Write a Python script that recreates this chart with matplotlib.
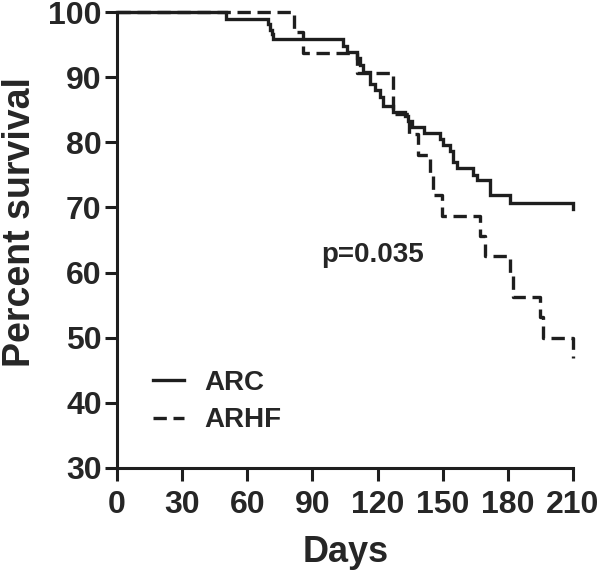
import matplotlib
matplotlib.use("Agg")
import matplotlib.pyplot as plt

plt.rcParams['font.family'] = ['Liberation Sans', 'DejaVu Sans']
plt.rcParams['font.weight'] = 'bold'

# Kaplan-Meier steps (day of drop, survival after drop)
arc_days = [0, 50.2, 69.7, 70.5, 71.3, 72.0, 104.2, 105.8, 110.4, 112.0, 113.4,
            116.5, 118.8, 121.0, 122.5, 127.3, 132.7, 134.2, 135.7, 141.5, 148.8,
            150.3, 153.4, 154.9, 156.5, 164.1, 165.7, 171.8, 181.0, 210]
arc_surv = [100, 98.9, 98.1, 97.3, 96.6, 95.8, 94.8, 93.8, 92.9, 91.9, 90.8,
            89.0, 88.0, 87.0, 85.5, 84.6, 84.0, 83.3, 82.4, 81.4, 80.5,
            79.6, 78.6, 77.0, 76.0, 75.0, 74.2, 71.9, 70.7, 69.8]

arhf_days = [0, 81.5, 85.7, 110.4, 127.3, 134.3, 138.8, 144.2, 145.7, 149.7,
             167.2, 169.3, 181.2, 182.5, 194.8, 196.4, 210]
arhf_surv = [100, 96.9, 93.75, 90.6, 84.4, 81.25, 78.1, 75.0, 71.9, 68.75,
             65.6, 62.5, 59.4, 56.25, 53.1, 50.0, 46.9]

xticks = [0, 30, 60, 90, 120, 150, 180, 210]
yticks = [30, 40, 50, 60, 70, 80, 90, 100]

ink = '#1e1e1e'
txt = '#262626'

fig = plt.figure(figsize=(6, 5.72), dpi=100)
ax = fig.add_axes([0.195, 0.182, 0.76, 0.797])

ax.step(arc_days, arc_surv, where='post', color=ink, lw=2.4,
        label='ARC', clip_on=False, solid_joinstyle='miter')
ax.step(arhf_days, arhf_surv, where='post', color=ink, lw=2.4,
        linestyle=(0, (4, 2)), label='ARHF', clip_on=False)

ax.set_xlim(0, 210)
ax.set_ylim(30, 100)
ax.set_xticks(xticks)
ax.set_yticks(yticks)
ax.tick_params(axis='both', length=9, width=2.2, colors=ink, labelsize=23,
               labelcolor=txt)
ax.tick_params(axis='x', pad=7)
ax.tick_params(axis='y', pad=2)
for lab in ax.get_xticklabels() + ax.get_yticklabels():
    lab.set_fontweight('bold')

for s in ['top', 'right']:
    ax.spines[s].set_visible(False)
for s in ['left', 'bottom']:
    ax.spines[s].set_linewidth(2.2)
    ax.spines[s].set_color(ink)

ax.set_xlabel('Days', fontsize=26, fontweight='bold', color=txt, va='center')
ax.set_ylabel('Percent survival', fontsize=27, fontweight='bold', color=txt,
              va='center')
ax.xaxis.set_label_coords(0.502, -0.186)
ax.yaxis.set_label_coords(-0.213, 0.54)

ax.text(117.9, 62.7, 'p=0.035', fontsize=20, fontweight='bold', color=txt,
        ha='center', va='center')

leg = ax.legend(loc='upper left', bbox_to_anchor=(0.025, 0.27), frameon=False,
                fontsize=20, handlelength=1.1, handletextpad=0.75,
                labelspacing=0.42)
for t in leg.get_texts():
    t.set_fontweight('bold')
    t.set_color(txt)

fig.savefig('out.png', dpi=100)
